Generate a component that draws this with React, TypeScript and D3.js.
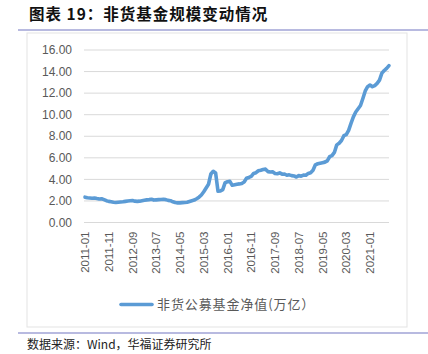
import * as d3 from "d3";
import React from "react";

// 非货公募基金净值(万亿), 月度, 2011-01 ~ 2021-09
const startMonth = new Date(2011, 0, 1);
const endMonth = new Date(2021, 9, 1);
const months = d3.timeMonth.range(startMonth, endMonth).map(d3.timeFormat("%Y-%m"));

const values2011 = [2.35, 2.3, 2.28, 2.25, 2.27, 2.22, 2.18, 2.2, 2.12, 2.02, 1.96, 1.92];
const values2012 = [1.88, 1.86, 1.88, 1.9, 1.92, 1.96, 2.0, 2.02, 2.04, 1.98, 1.96, 1.98];
const values2013 = [2.02, 2.06, 2.1, 2.12, 2.15, 2.08, 2.1, 2.12, 2.14, 2.15, 2.12, 2.05];
const values2014 = [2.02, 1.92, 1.85, 1.82, 1.82, 1.84, 1.86, 1.88, 1.95, 2.02, 2.08, 2.2];
const values2015 = [2.35, 2.55, 2.85, 3.2, 3.55, 4.5, 4.75, 4.6, 2.9, 2.92, 3.05, 3.7];
const values2016 = [3.78, 3.82, 3.45, 3.5, 3.55, 3.58, 3.62, 3.75, 4.1, 4.18, 4.28, 4.55];
const values2017 = [4.62, 4.8, 4.85, 4.92, 4.95, 4.72, 4.68, 4.7, 4.55, 4.52, 4.6, 4.48];
const values2018 = [4.5, 4.38, 4.42, 4.35, 4.32, 4.22, 4.35, 4.3, 4.4, 4.38, 4.55, 4.62];
const values2019 = [4.85, 5.35, 5.45, 5.5, 5.55, 5.6, 5.72, 6.1, 6.2, 6.5, 7.2, 7.35];
const values2020 = [7.6, 8.05, 8.15, 8.55, 9.2, 9.8, 10.25, 10.55, 10.85, 11.5, 12.2, 12.6];
const values2021 = [12.75, 12.6, 12.7, 12.9, 13.2, 13.85, 14.1, 14.3, 14.55];

const netValue = [
  ...values2011, ...values2012, ...values2013, ...values2014, ...values2015, ...values2016,
  ...values2017, ...values2018, ...values2019, ...values2020, ...values2021,
];

const yTicks = [0, 2, 4, 6, 8, 10, 12, 14, 16];
const seriesName = "非货公募基金净值(万亿）";
const title = "图表 19：非货基金规模变动情况";
const source = "数据来源：Wind，华福证券研究所";

const width = 428;
const height = 354;
const plotLeft = 85;
const plotRight = 389;
const plotTop = 50;
const plotBottom = 222.5;

export default function App() {
  const x = d3.scalePoint<string>().domain(months).range([plotLeft, plotRight]);
  const y = d3.scaleLinear().domain([0, 16]).range([plotBottom, plotTop]);

  const line = d3
    .line<number>()
    .x((d, i) => x(months[i]) as number)
    .y((d) => y(d));

  const labelMonths = months.filter((m, i) => i % 10 === 0);
  const font = "'Liberation Sans', Arial, sans-serif";
  const cjk = "'Noto Sans CJK SC', sans-serif";

  return (
    <div style={{ position: "absolute", left: 0, top: 0 }}>
      <svg width={width} height={height} style={{ display: "block", background: "#fff" }}>
        {/* title */}
        <text x={29} y={20} fontFamily={cjk} fontWeight="bold" fontSize={15.5} letterSpacing={1} fill="#111">
          {title}
        </text>
        <line x1={18} x2={428} y1={30} y2={30} stroke="#7377C2" strokeWidth={1.2} />

        {/* chart box */}
        <rect x={27} y={33} width={380} height={294} fill="#fff" stroke="#E3E3E3" strokeWidth={1} />

        {/* grid + y labels */}
        {yTicks.map((t) => (
          <g key={t}>
            <line x1={plotLeft - 1} x2={plotRight} y1={y(t)} y2={y(t)} stroke="#D9D9D9" strokeWidth={1} />
            <text
              x={72}
              y={y(t)}
              dy="0.35em"
              textAnchor="end"
              fontFamily={font}
              fontSize={12}
              fill="#595959"
            >
              {t.toFixed(2)}
            </text>
          </g>
        ))}

        {/* x labels */}
        {labelMonths.map((m) => (
          <text
            key={m}
            transform={`translate(${x(m)},${plotBottom + 9}) rotate(-90)`}
            dy="0.35em"
            textAnchor="end"
            fontFamily={font}
            fontSize={11.5}
            fill="#595959"
          >
            {m}
          </text>
        ))}

        {/* series */}
        <path
          d={line(netValue) ?? ""}
          fill="none"
          stroke="#5B9BD5"
          strokeWidth={3.6}
          strokeLinejoin="round"
          strokeLinecap="round"
        />

        {/* legend */}
        <line x1={121} x2={152} y1={304.5} y2={304.5} stroke="#5B9BD5" strokeWidth={3.6} strokeLinecap="round" />
        <text x={157} y={304.5} dy="0.35em" fontFamily={cjk} fontSize={13} letterSpacing={0.9} fill="#595959">
          {seriesName}
        </text>

        {/* footer */}
        <line x1={18} x2={428} y1={333} y2={333} stroke="#7377C2" strokeWidth={1.2} />
        <text x={27} y={349} fontFamily={cjk} fontSize={12} fill="#222">
          {source}
        </text>
      </svg>
    </div>
  );
}
